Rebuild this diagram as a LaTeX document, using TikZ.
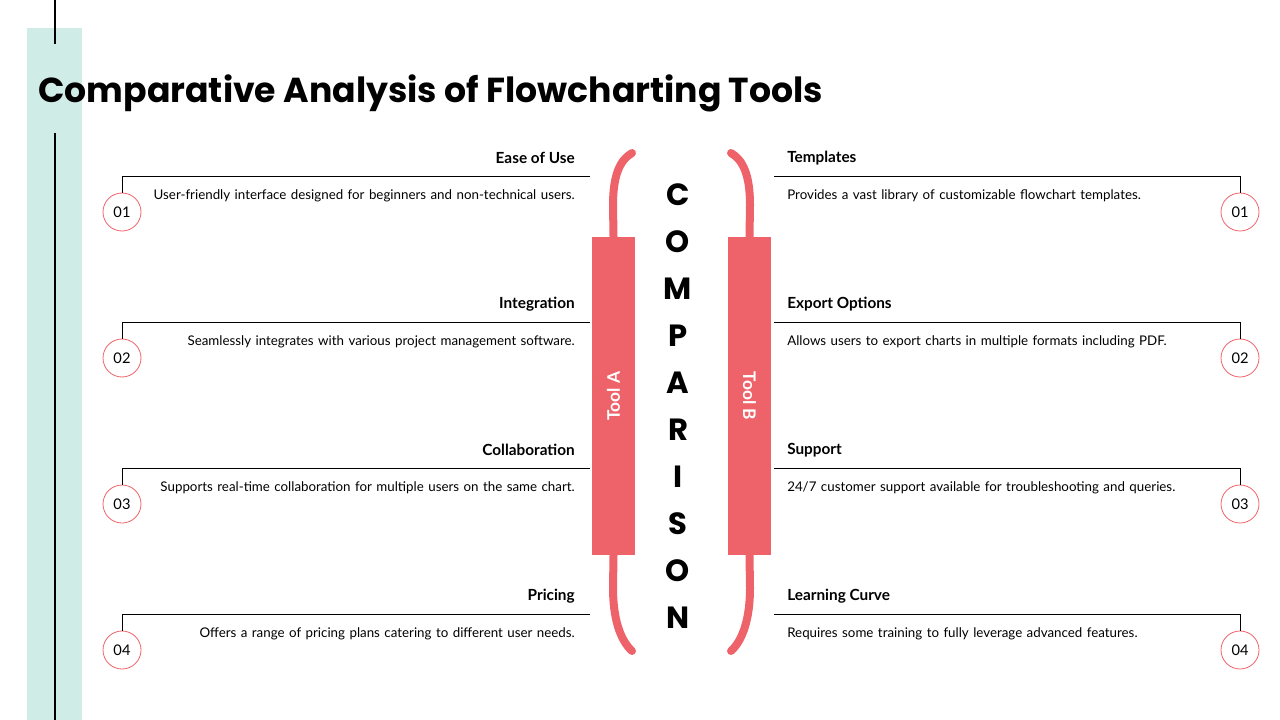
\documentclass[tikz,border=0pt]{standalone}
\usepackage{fontspec}
\setmainfont{Lato}
\newfontfamily\titlefont{Poppins}
\definecolor{redc}{HTML}{EE636A}
\definecolor{tealc}{HTML}{D0ECE7}
\begin{document}
\begin{tikzpicture}[x=0.75pt,y=-0.75pt,
  hdr/.style={font=\bfseries\fontsize{11.5}{13}\selectfont},
  desc/.style={font=\fontsize{10}{14.5}\selectfont, text width=330pt},
  numc/.style={circle,draw=redc,line width=0.6pt,minimum size=28.5pt,inner sep=0pt,font=\fontsize{11}{12}\selectfont},
  bar/.style={fill=redc,draw=none},
  arc/.style={draw=redc,line width=6pt,line cap=round},
  letter/.style={font=\titlefont\bfseries\fontsize{23}{24}\selectfont}]
\useasboundingbox (0,0) rectangle (1280,720);
\fill[tealc] (27,28) rectangle (82,720);
\draw[line width=1.5pt] (55,0) -- (55,44);
\draw[line width=1.5pt] (55,133) -- (55,720);
\node[anchor=base west,inner sep=0pt,font=\titlefont\bfseries\fontsize{26}{30}\selectfont] (title) at (38,103) {Comparative Analysis of Flowcharting Tools};
% left rows
\foreach \i/\h/\d [count=\k] in {0/Ease of Use/{User-friendly interface designed for beginners and non-technical users.},
 146/Integration/{Seamlessly integrates with various project management software.},
 292/Collaboration/{Supports real-time collaboration for multiple users on the same chart.},
 438/Pricing/{Offers a range of pricing plans catering to different user needs.}}{
  \node[hdr,anchor=east,inner sep=0pt] (lh\k) at (575,158+\i) {\h};
  \node[numc] (ln\k) at (122,212+\i) {0\k};
  \coordinate (la\k) at (590,176+\i);
  \draw[line width=0.6pt] (la\k) -- (122,176+\i) -- (ln\k.north);
  \node[desc,anchor=north east,align=right,inner sep=0pt] (ld\k) at (575,189+\i) {\d};
}
\foreach \i/\h/\d [count=\k] in {0/Templates/{Provides a vast library of customizable flowchart templates.},
 146/Export Options/{Allows users to export charts in multiple formats including PDF.},
 292/Support/{24/7 customer support available for troubleshooting and queries.},
 438/Learning Curve/{Requires some training to fully leverage advanced features.}}{
  \node[hdr,anchor=west,inner sep=0pt] (rh\k) at (787,158+\i) {\h};
  \node[numc] (rn\k) at (1240,212+\i) {0\k};
  \coordinate (ra\k) at (774,176+\i);
  \draw[line width=0.6pt] (ra\k) -- (1240,176+\i) -- (rn\k.north);
  \node[desc,anchor=north west,align=left,inner sep=0pt] (rd\k) at (787,189+\i) {\d};
}
% bars
\node[bar,minimum width=32pt,minimum height=238.5pt,inner sep=0pt] (ta) at (613.5,396) {};
\node[bar,minimum width=32pt,minimum height=238.5pt,inner sep=0pt] (tb) at (749.5,396) {};
\node[rotate=90,text=white,font=\bfseries\fontsize{13}{14}\selectfont] at (ta) {Tool A};
\node[rotate=-90,text=white,font=\bfseries\fontsize{13}{14}\selectfont] at (tb) {Tool B};
\draw[arc] (ta.north) -- (613,205) .. controls (613,175) and (620,160) .. (632,153);
\draw[arc] (ta.south) -- (613,588) .. controls (613,618) and (620,640) .. (632,651);
\draw[arc] (tb.north) -- (750,205) .. controls (750,175) and (743,160) .. (731,153);
\draw[arc] (tb.south) -- (750,588) .. controls (750,618) and (743,640) .. (731,651);
\foreach \c [count=\n from 0] in {C,O,M,P,A,R,I,S,O,N}{
  \node[letter] (c\n) at (678,195+47*\n) {\c};
}
\end{tikzpicture}
\end{document}
